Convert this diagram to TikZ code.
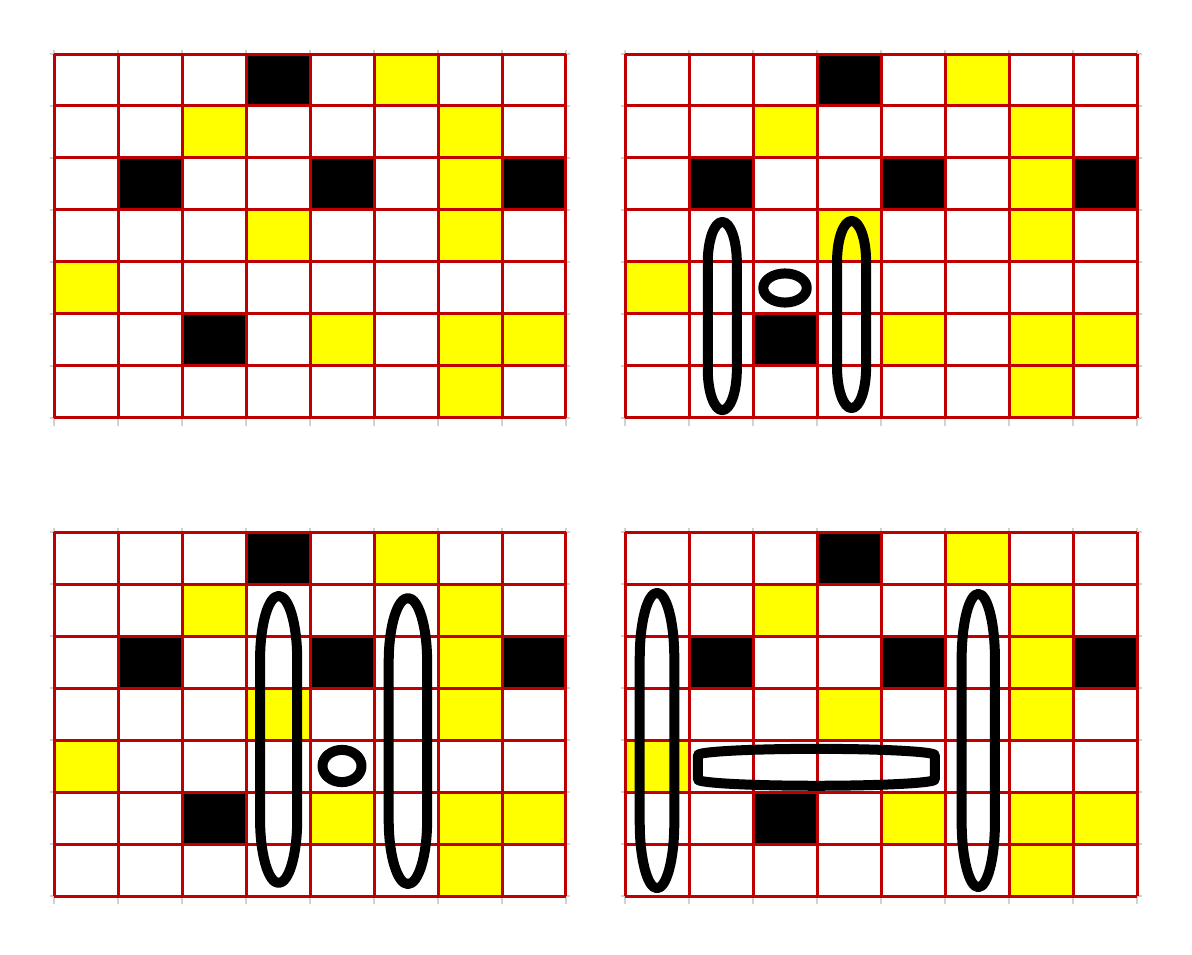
\documentclass[tikz,border=0pt]{standalone}
\usepackage{tikz}

\definecolor{cellyellow}{RGB}{255,255,0}
\definecolor{cellred}{RGB}{192,0,0}

\tikzset{
  gridline/.style={draw=cellred, line width=1.5pt, step={(1,1)}},
  ticklines/.style={draw=black!18, line width=0.75pt, step={(1,1)}},
  blackcell/.style={fill=black},
  yellowcell/.style={fill=cellyellow},
  pill/.style={draw=black, line width=5pt, line join=round},
}

% one 8x7 board, cells counted from the top row
\newcommand{\board}{%
  \draw[ticklines] (-0.07,-0.15) grid (8.07,7.08);
  \foreach \c/\r in {3/0, 1/2, 4/2, 7/2, 2/5}
    \fill[blackcell] (\c,6-\r) rectangle ++(1,1);
  \foreach \c/\r in {5/0, 2/1, 6/1, 6/2, 3/3, 6/3, 0/4, 4/5, 6/5, 7/5, 6/6}
    \fill[yellowcell] (\c,6-\r) rectangle ++(1,1);
  \draw[gridline] (0,0) grid (8,7);
}

% centre x, centre y, half width, half height, corner x radius, corner y radius
\newcommand{\drawpill}[6]{%
  \draw[pill] ({#1-#3},{#2-#4+#6}) -- ({#1-#3},{#2+#4-#6})
    arc[start angle=180, end angle=90, x radius=#5, y radius=#6]
    -- ({#1+#3-#5},{#2+#4})
    arc[start angle=90, end angle=0, x radius=#5, y radius=#6]
    -- ({#1+#3},{#2-#4+#6})
    arc[start angle=0, end angle=-90, x radius=#5, y radius=#6]
    -- ({#1-#3+#5},{#2-#4})
    arc[start angle=-90, end angle=-180, x radius=#5, y radius=#6]
    -- cycle;
}

\begin{document}
\begin{tikzpicture}[x=32pt, y=26pt]
  \useasboundingbox (-0.84375,-1.11538) rectangle (17.78125,17.2308);

  % top left
  \begin{scope}[shift={(0,9.1923)}]
    \board
  \end{scope}

  % top right
  \begin{scope}[shift={(8.922,9.1923)}]
    \board
    \drawpill{1.52}{1.96}{0.227}{1.81}{0.227}{0.78}
    \drawpill{3.54}{1.99}{0.227}{1.80}{0.227}{0.78}
    \draw[pill] (2.5,2.5) ellipse [x radius=0.34, y radius=0.28];
  \end{scope}

  % bottom left
  \begin{scope}
    \board
    \drawpill{3.51}{3.01}{0.29}{2.76}{0.29}{1.22}
    \drawpill{5.53}{2.98}{0.30}{2.75}{0.30}{1.22}
    \draw[pill] (4.5,2.5) ellipse [x radius=0.305, y radius=0.31];
  \end{scope}

  % bottom right
  \begin{scope}[shift={(8.922,0)}]
    \board
    \drawpill{0.5}{2.99}{0.27}{2.84}{0.27}{1.25}
    \drawpill{5.52}{2.99}{0.26}{2.82}{0.26}{1.25}
    \drawpill{2.99}{2.475}{1.85}{0.355}{1.85}{0.12}
  \end{scope}
\end{tikzpicture}
\end{document}
